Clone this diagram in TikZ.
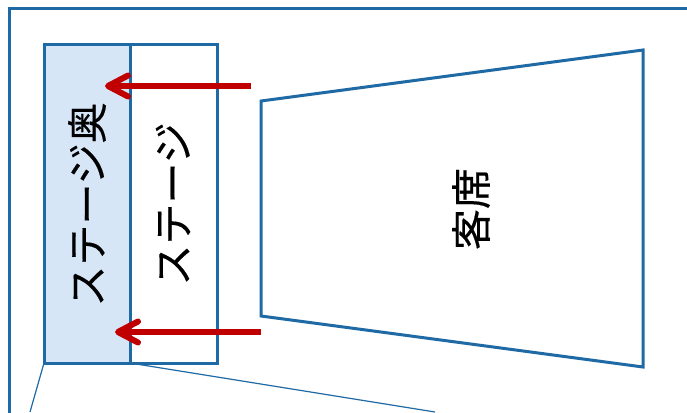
\documentclass[tikz,border=0pt]{standalone}
\usepackage{fontspec}
\usetikzlibrary{arrows.meta}
\newfontfamily\cjk[FakeBold=0.35]{Noto Sans CJK JP}
\definecolor{frameblue}{HTML}{1F6AA5}
\definecolor{backfill}{HTML}{D7E6F6}
\definecolor{arrowred}{HTML}{C00000}
\tikzset{
  outline/.style={draw=frameblue,line width=3pt,line join=miter},
  thinline/.style={draw=frameblue,line width=1.2pt},
  redarrow/.style={draw=arrowred,line width=6pt,-{Straight Barb[length=20pt,width=21pt,round,line width=6pt]}},
  vlabel/.style={rotate=90,font=\cjk\fontsize{41}{41}\selectfont,text=black,inner sep=0pt,anchor=center}
}
\begin{document}
\begin{tikzpicture}[x=1pt,y=-1pt]
\useasboundingbox (0,0) rectangle (687,412);
\fill[white] (0,0) rectangle (687,412);
\begin{scope}
\clip (0,0) rectangle (687,412);
\draw[outline] (9,420) -- (9,9) -- (695,9);
\node[outline,fill=backfill,minimum width=86pt,minimum height=318pt,inner sep=0pt,anchor=north west,outer sep=0pt] (back) at (44,45) {};
\node[outline,minimum width=87pt,minimum height=318pt,inner sep=0pt,anchor=north west,outer sep=0pt] (stage) at (130,45) {};
\draw[outline] (261,101) -- (643,50) -- (643,367) -- (261,316) -- cycle;
\coordinate (a1s) at (251,86);
\coordinate (a1e) at (105,86);
\coordinate (a2s) at (261,332);
\coordinate (a2e) at (115,332);
\coordinate (l1e) at (30,412);
\coordinate (l2e) at (435,412);
\draw[thinline] (back.south west) -- (l1e);
\draw[thinline] (back.south east) -- (l2e);
\node[vlabel] (t1) at (87,204.5) {ステージ奥};
\node[vlabel] (t2) at (173,204) {ステージ};
\node[vlabel] (t3) at (471,209) {客席};
\draw[redarrow] (a1s) -- (a1e);
\draw[redarrow] (a2s) -- (a2e);
\end{scope}
\end{tikzpicture}
\end{document}
